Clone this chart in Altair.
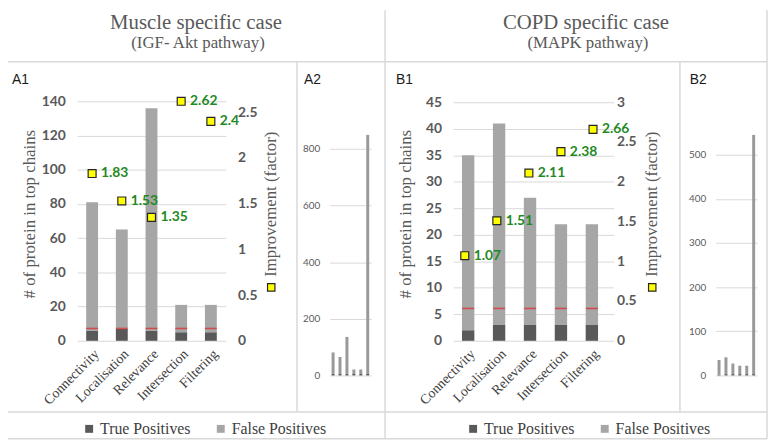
import altair as alt
import pandas as pd

# ---------------- data ----------------
categories = ["Connectivity", "Localisation", "Relevance", "Intersection", "Filtering"]
legend_kinds = ["True Positives", "False Positives"]

a1_total = [81, 65, 136, 21, 21]
a1_true_pos = [6, 7, 6, 5, 5]
a1_red_level = [7.2, 7.2, 7.2, 7.2, 7.2]
a1_improvement = [1.83, 1.53, 1.35, 2.62, 2.4]

b1_total = [35, 41, 27, 22, 22]
b1_true_pos = [2, 3, 3, 3, 3]
b1_red_level = [6.1, 6.1, 6.1, 6.1, 6.1]
b1_improvement = [1.07, 1.51, 2.11, 2.38, 2.66]

overview_steps = ["Connectivity", "Localisation", "Relevance", "Intersection", "Filtering", "All"]
a2_total = [81, 65, 136, 21, 21, 849]
a2_true_pos = [6, 7, 6, 5, 5, 7]
b2_total = [35, 41, 27, 22, 22, 545]
b2_true_pos = [2, 3, 3, 3, 3, 3]

a1_count_ticks = [0, 20, 40, 60, 80, 100, 120, 140]
b1_count_ticks = [0, 5, 10, 15, 20, 25, 30, 35, 40, 45]
a1_factor_ticks = [0, 0.5, 1, 1.5, 2, 2.5]
b1_factor_ticks = [0, 0.5, 1, 1.5, 2, 2.5, 3]
a2_ticks = [0, 200, 400, 600, 800]
b2_ticks = [0, 100, 200, 300, 400, 500]

panel_titles = ["Muscle specific case", "COPD specific case"]
panel_subtitles = ["(IGF- Akt pathway)", "(MAPK pathway)"]
panel_tags = ["A1", "A2", "B1", "B2"]
count_title = "# of protein in top chains"
factor_title = "Improvement (factor)"

# ---------------- styling ----------------
W, H = 770, 435
SERIF = "Liberation Serif"
TICKF = "Liberation Sans Narrow, Lato, sans-serif"
SANS = "Liberation Sans"
GRID = "#d9d9d9"
BORDER = "#d9d9d9"
TXT = "#595959"
GREEN = "#1f8a1f"
BAR_COLORS = ["#595959", "#a6a6a6"]
OV_COLORS = ["#595959", "#999999"]

one = pd.DataFrame({"k": [0]})


def stacked(cats, total, tp):
    rows = []
    for c, t, p in zip(cats, total, tp):
        rows.append({"step": c, "kind": legend_kinds[0], "n": p, "ord": 0})
        rows.append({"step": c, "kind": legend_kinds[1], "n": t - p, "ord": 1})
    return pd.DataFrame(rows)


def left_axis(at_x, values, size=14, pad=12, bold=True):
    return alt.Axis(orient="left", offset=-at_x, values=values, grid=True, gridColor=GRID,
                    gridWidth=1, domain=False, ticks=False, labelPadding=pad, labelFont=TICKF,
                    labelFontSize=size, labelColor=TXT,
                    labelFontWeight="bold" if bold else "normal", title=None)


def right_axis(at_x, values, pad):
    return alt.Axis(orient="right", offset=at_x - W, values=values, grid=False, domain=False,
                    ticks=False, labelPadding=pad, labelFont=TICKF, labelFontSize=14,
                    labelColor=TXT, labelFontWeight="bold", format="~g", title=None)


def x_axis(at_y):
    return alt.Axis(orient="bottom", offset=at_y - H, labelAngle=315, labelFont=SERIF,
                    labelFontSize=14, labelColor="#404040", labelPadding=6, domain=False,
                    ticks=False, grid=False, title=None)


def bar_legend(x, y):
    return alt.Legend(title=None, orient="none", legendX=x, legendY=y, direction="horizontal",
                      symbolType="square", symbolSize=64, symbolStrokeWidth=0,
                      labelFont=SERIF, labelFontSize=16, labelColor="#404040",
                      columnPadding=22, labelOffset=3, padding=0)


def bars(df, xs, ys, xaxis, yaxis, legend, colors):
    return alt.Chart(df).mark_bar().encode(
        x=alt.X("step:N", scale=xs, axis=xaxis, sort=None),
        y=alt.Y("n:Q", stack="zero", scale=ys, axis=yaxis),
        color=alt.Color("kind:N", scale=alt.Scale(domain=legend_kinds, range=colors),
                        legend=legend),
        order=alt.Order("ord:Q", sort="ascending"),
    )


def red_ticks(cats, levels, xs, ys):
    df = pd.DataFrame({"step": cats, "lvl": levels})
    return alt.Chart(df).mark_tick(color="#e3262b", thickness=1.6, size=12, orient="horizontal").encode(
        x=alt.X("step:N", scale=xs, axis=None, sort=None),
        y=alt.Y("lvl:Q", scale=ys, axis=None),
    )


def improvement(cats, vals, xs, fs, faxis):
    df = pd.DataFrame({"step": cats, "factor": vals})
    pts = alt.Chart(df).mark_square(size=64, fill="#ffff00", stroke="#262626",
                                    strokeWidth=1.2, opacity=1).encode(
        x=alt.X("step:N", scale=xs, axis=None, sort=None),
        y=alt.Y("factor:Q", scale=fs, axis=faxis),
    )
    txt = alt.Chart(df).mark_text(align="left", baseline="middle", dx=9, font="Lato",
                                  fontWeight="bold", fontSize=14, color=GREEN).encode(
        x=alt.X("step:N", scale=xs, axis=None, sort=None),
        y=alt.Y("factor:Q", scale=fs, axis=None),
        text=alt.Text("factor:Q", format="~g"),
    )
    return [pts, txt]


def hrule(y, x1, x2):
    return alt.Chart(one).mark_rule(color=BORDER, strokeWidth=1.5).encode(
        x=alt.value(x1), x2=alt.value(x2), y=alt.value(y))


def vrule(x, y1, y2):
    return alt.Chart(one).mark_rule(color=BORDER, strokeWidth=1.5).encode(
        x=alt.value(x), y=alt.value(y1), y2=alt.value(y2))


def label(text, x, y, size, font, color, align="center", angle=0, baseline="alphabetic"):
    return alt.Chart(one).mark_text(text=text, font=font, fontSize=size, color=color,
                                    align=align, baseline=baseline, angle=angle).encode(
        x=alt.value(x), y=alt.value(y))


def vtitle(text, x, y):
    return label(text, x, y, 17, SERIF, TXT, "center", 270, "middle")


def key_square(x, y):
    return alt.Chart(one).mark_square(size=56, fill="#ffff00", stroke="#262626",
                                      strokeWidth=1.2, opacity=1).encode(
        x=alt.value(x), y=alt.value(y))


# ---------------- scales ----------------
xs_a1 = alt.Scale(domain=categories, range=[70, 220], paddingInner=0.6, paddingOuter=0.3)
ys_a1 = alt.Scale(domain=[0, 140], range=[334, 92], nice=False)
fs_a1 = alt.Scale(domain=[0, 2.62], range=[334, 92], nice=False)

xs_b1 = alt.Scale(domain=categories, range=[450, 612], paddingInner=0.6, paddingOuter=0.392,
                  align=0.357)
ys_b1 = alt.Scale(domain=[0, 45], range=[334, 93], nice=False)
fs_b1 = alt.Scale(domain=[0, 3], range=[334, 93], nice=False)

xs_a2 = alt.Scale(domain=overview_steps, range=[325, 367], paddingInner=0.57, paddingOuter=0.285)
ys_a2 = alt.Scale(domain=[0, 800], range=[369, 140], nice=False)
xs_b2 = alt.Scale(domain=overview_steps, range=[715, 757], paddingInner=0.57, paddingOuter=0.285)
ys_b2 = alt.Scale(domain=[0, 500], range=[369, 146], nice=False)

# ---------------- layers ----------------
layers = [
    hrule(52, 0, 767), hrule(406, 0, 767), hrule(433, 0, 767),
    vrule(767, 0, 433), vrule(381, 0, 433), vrule(292, 52, 406), vrule(679, 52, 406),
    label(panel_titles[0], 190, 19, 21, SERIF, TXT),
    label(panel_subtitles[0], 192, 38, 17, SERIF, TXT),
    label(panel_titles[1], 584, 19, 21, SERIF, TXT),
    label(panel_subtitles[1], 586, 38, 17, SERIF, TXT),
    label(panel_tags[0], 4, 75, 14, SANS, "#1a1a1a", "left"),
    label(panel_tags[1], 299, 75, 14, SANS, "#1a1a1a", "left"),
    label(panel_tags[2], 392, 75, 14, SANS, "#1a1a1a", "left"),
    label(panel_tags[3], 689, 75, 14, SANS, "#1a1a1a", "left"),
    vtitle(count_title, 22, 206),
    vtitle(factor_title, 266, 196),
    vtitle(count_title, 402, 206),
    vtitle(factor_title, 651, 196),
    # A1
    bars(stacked(categories, a1_total, a1_true_pos), xs_a1, ys_a1, x_axis(334),
         left_axis(70, a1_count_ticks), bar_legend(74, 415), BAR_COLORS),
    red_ticks(categories, a1_red_level, xs_a1, ys_a1),
    *improvement(categories, a1_improvement, xs_a1, fs_a1, right_axis(220, a1_factor_ticks, 12)),
    key_square(266, 280),
    # A2
    bars(stacked(overview_steps, a2_total, a2_true_pos), xs_a2, ys_a2, None,
         left_axis(325, a2_ticks, size=10, pad=10, bold=False), None, OV_COLORS),
    # B1
    bars(stacked(categories, b1_total, b1_true_pos), xs_b1, ys_b1, x_axis(334),
         left_axis(450, b1_count_ticks), bar_legend(462, 415), BAR_COLORS),
    red_ticks(categories, b1_red_level, xs_b1, ys_b1),
    *improvement(categories, b1_improvement, xs_b1, fs_b1, right_axis(612, b1_factor_ticks, 3)),
    key_square(651, 280),
    # B2
    bars(stacked(overview_steps, b2_total, b2_true_pos), xs_b2, ys_b2, None,
         left_axis(715, b2_ticks, size=10, pad=10, bold=False), None, OV_COLORS),
]

chart = alt.layer(*layers).resolve_scale(
    x="independent", y="independent", color="independent"
).properties(
    width=W, height=H, autosize=alt.AutoSizeParams(type="none"), padding=0
).configure_view(stroke=None)

chart.save("out.html", embed_options={"renderer": "svg", "actions": False})
